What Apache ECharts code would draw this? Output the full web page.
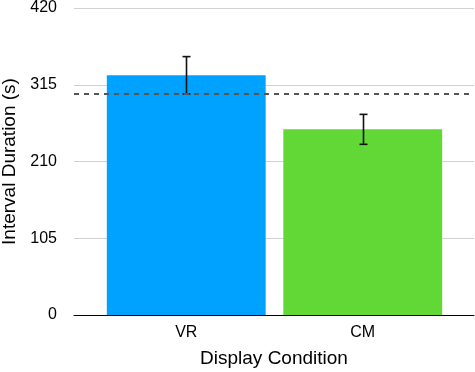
<!DOCTYPE html>
<html><head><meta charset="utf-8">
<script src="https://cdn.jsdelivr.net/npm/echarts@6/dist/echarts.min.js"></script>
<style>html,body{margin:0;padding:0;background:#fff}#c{width:475px;height:372px}</style>
</head><body><div id="c"></div>
<script>
const categories = ['VR', 'CM'];
const means = [328, 254];
const errors = [25.5, 20.5];
const referenceLine = 303;
const yTicks = [0, 105, 210, 315, 420];
const colors = ['#00A2FF', '#61D836'];

const font = '"Liberation Sans", Arial, Helvetica, sans-serif';
const chart = echarts.init(document.getElementById('c'));
const yCommon = { type: 'value', min: yTicks[0], max: yTicks[yTicks.length - 1], interval: yTicks[1] - yTicks[0] };
chart.setOption({
  animation: false,
  grid: [
    { left: 74, right: 1, top: 8, bottom: 57, outerBoundsMode: 'none', containLabel: false },
    { left: 98, right: 24, top: 8, bottom: 57, outerBoundsMode: 'none', containLabel: false }
  ],
  xAxis: [
    { type: 'category', gridIndex: 0, data: ['a'], axisLine: { lineStyle: { color: '#000', width: 1 } }, axisTick: { show: false }, axisLabel: { show: false },
      name: 'Display Condition', nameLocation: 'middle', nameGap: 34, nameTextStyle: { fontFamily: font, fontSize: 19, color: '#000' } },
    { type: 'category', gridIndex: 1, data: categories, axisLine: { show: false }, axisTick: { show: false },
      axisLabel: { fontFamily: font, fontSize: 16, color: '#000', margin: 10 } }
  ],
  yAxis: [
    Object.assign({}, yCommon, { gridIndex: 0, axisLine: { show: false }, axisTick: { show: false },
      axisLabel: { fontFamily: font, fontSize: 16, color: '#000', margin: 17 },
      splitLine: { lineStyle: { color: '#d0d0d0', width: 1 } },
      name: 'Interval Duration (s)', nameLocation: 'middle', nameGap: 51, nameRotate: 90,
      nameTextStyle: { fontFamily: font, fontSize: 19, color: '#000' } }),
    Object.assign({}, yCommon, { gridIndex: 1, show: false })
  ],
  series: [
    { type: 'bar', xAxisIndex: 1, yAxisIndex: 1, barWidth: '90%',
      data: means.map((v, i) => ({ value: v, itemStyle: { color: colors[i] } })), z: 2 },
    { type: 'line', xAxisIndex: 0, yAxisIndex: 0, data: [], symbol: 'none',
      markLine: { silent: true, symbol: 'none', label: { show: false },
        lineStyle: { type: [5, 5], color: '#555', width: 2 }, data: [{ yAxis: referenceLine }] }, z: 3 },
    { type: 'custom', xAxisIndex: 1, yAxisIndex: 1, z: 4,
      data: means.map((v, i) => [i, v - errors[i], v + errors[i]]),
      renderItem: function (params, api) {
        const lo = api.coord([api.value(0), api.value(1)]);
        const hi = api.coord([api.value(0), api.value(2)]);
        const x = Math.round(lo[0]) + 0.5, w = 4;
        const st = { stroke: '#111', lineWidth: 1.6 };
        return { type: 'group', children: [
          { type: 'line', shape: { x1: x, y1: hi[1], x2: x, y2: lo[1] }, style: st },
          { type: 'line', shape: { x1: x - w, y1: hi[1], x2: x + w, y2: hi[1] }, style: st },
          { type: 'line', shape: { x1: x - w, y1: lo[1], x2: x + w, y2: lo[1] }, style: st }
        ] };
      } }
  ]
});
</script></body></html>
